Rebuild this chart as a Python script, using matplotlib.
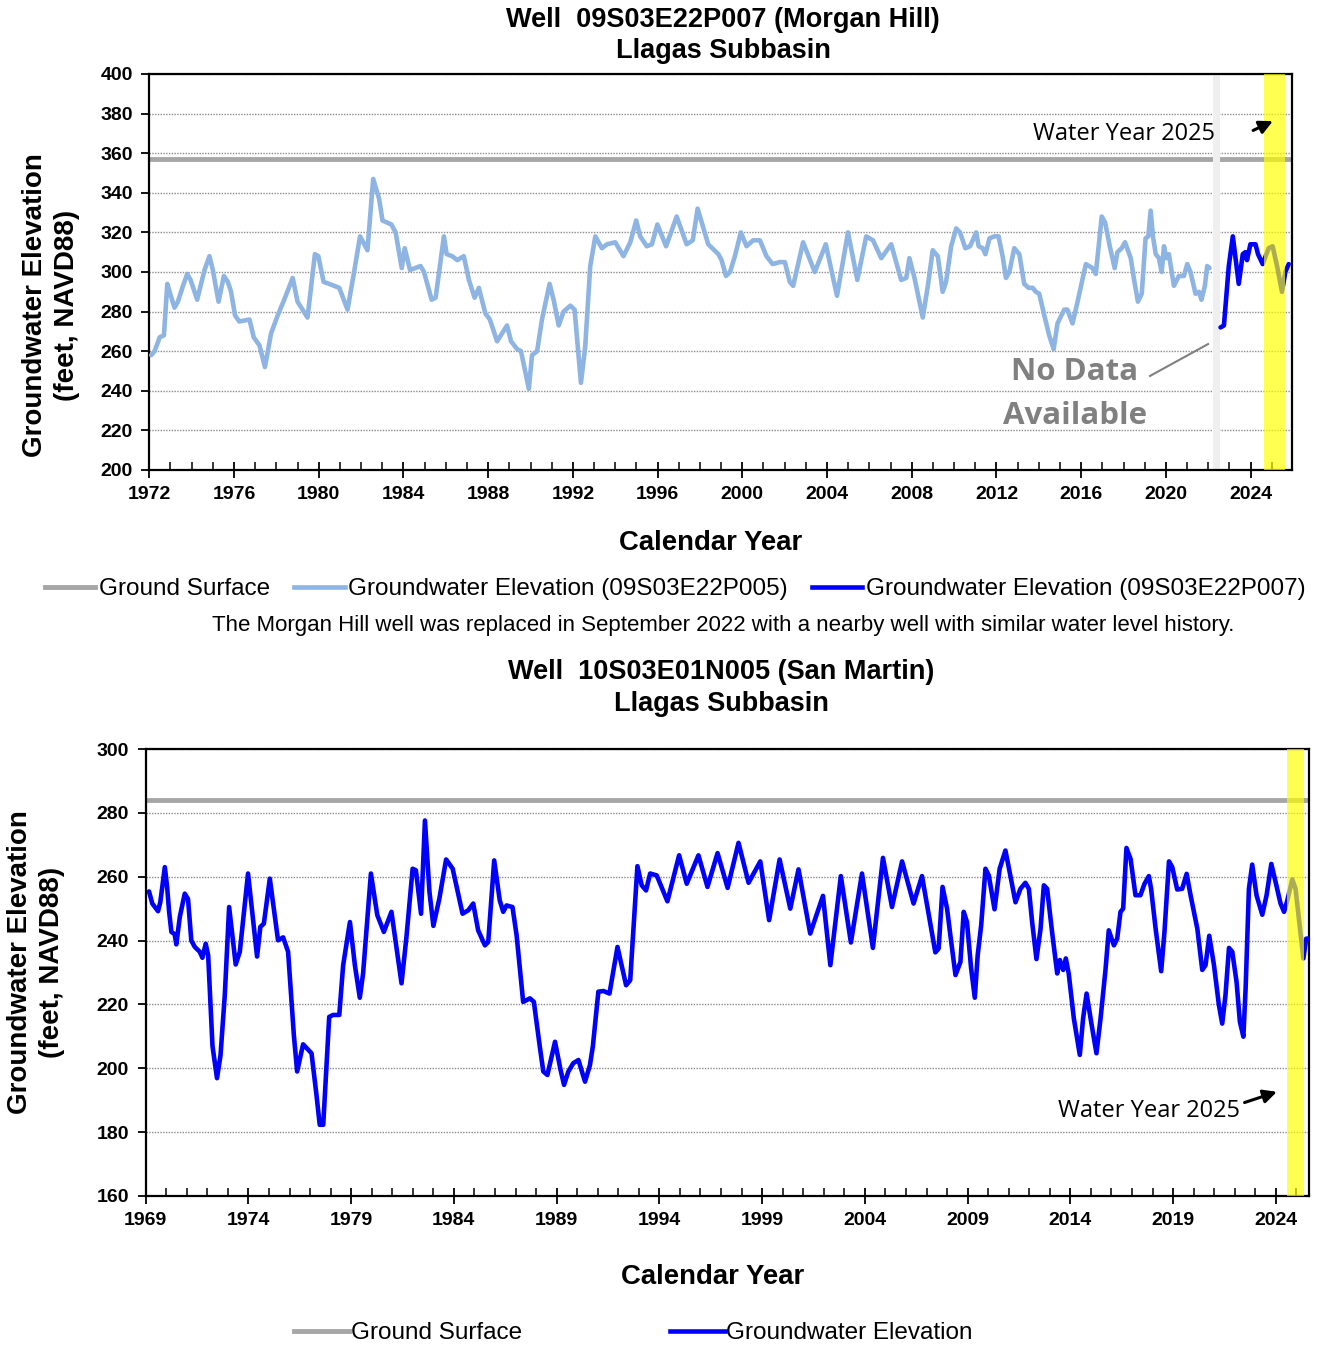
import matplotlib
matplotlib.use("Agg")
import matplotlib.pyplot as plt
from matplotlib.lines import Line2D
from matplotlib.ticker import MultipleLocator

plt.rcParams["font.family"] = ["Liberation Sans", "DejaVu Sans"]

# ---------------- Morgan Hill (top panel) ----------------
mh_ground_surface = 357

p005_year = [
    1972.09, 1972.25, 1972.49, 1972.69, 1972.85, 1972.96, 1973.19, 1973.35, 1973.59, 1973.79,
    1973.95, 1974.26, 1974.42, 1974.61, 1974.84, 1975.00, 1975.27, 1975.52, 1975.71, 1975.86,
    1976.05, 1976.25, 1976.73, 1976.93, 1977.20, 1977.46, 1977.75, 1978.06, 1978.37, 1978.77,
    1979.00, 1979.47, 1979.82, 1979.98, 1980.23, 1980.49, 1980.73, 1980.97, 1981.36, 1981.67,
    1981.95, 1982.30, 1982.57, 1982.85, 1983.01, 1983.43, 1983.63, 1983.92, 1984.06, 1984.31,
    1984.81, 1984.97, 1985.33, 1985.52, 1985.91, 1986.04, 1986.30, 1986.54, 1986.85, 1987.09,
    1987.36, 1987.56, 1987.87, 1988.08, 1988.42, 1988.89, 1989.08, 1989.37, 1989.55, 1989.92,
    1990.07, 1990.31, 1990.54, 1990.90, 1991.09, 1991.33, 1991.56, 1991.88, 1992.08, 1992.38,
    1992.58, 1992.82, 1993.06, 1993.37, 1993.61, 1994.00, 1994.39, 1994.71, 1994.99, 1995.18,
    1995.49, 1995.73, 1995.99, 1996.40, 1996.90, 1997.37, 1997.66, 1997.89, 1998.39, 1998.87,
    1999.02, 1999.23, 1999.42, 1999.65, 1999.93, 2000.20, 2000.51, 2000.83, 2001.14, 2001.43,
    2001.77, 2002.01, 2002.24, 2002.40, 2002.87, 2003.42, 2003.94, 2004.47, 2004.99, 2005.43,
    2005.85, 2006.17, 2006.56, 2007.03, 2007.50, 2007.74, 2007.89, 2008.13, 2008.52, 2008.76,
    2008.99, 2009.23, 2009.46, 2009.62, 2009.86, 2010.10, 2010.28, 2010.53, 2010.75, 2010.88,
    2011.04, 2011.16, 2011.35, 2011.48, 2011.67, 2011.90, 2012.10, 2012.29, 2012.45, 2012.61,
    2012.84, 2013.08, 2013.31, 2013.52, 2013.71, 2013.86, 2014.02, 2014.26, 2014.49, 2014.70,
    2014.88, 2015.20, 2015.35, 2015.59, 2015.83, 2016.22, 2016.53, 2016.69, 2016.97, 2017.13,
    2017.35, 2017.58, 2017.71, 2017.91, 2018.07, 2018.34, 2018.50, 2018.68, 2018.86, 2019.04,
    2019.17, 2019.28, 2019.39, 2019.52, 2019.67, 2019.80, 2019.91, 2020.02, 2020.14, 2020.38,
    2020.61, 2020.85, 2021.01, 2021.16, 2021.40, 2021.56, 2021.68, 2021.84, 2021.95, 2022.06,
]
p005_level = [
    258, 260, 267, 268, 294, 290, 282, 285, 293, 299,
    296, 286, 293, 301, 308, 301, 285, 298, 295, 290,
    278, 275, 276, 267, 263, 252, 269, 278, 286, 297,
    285, 277, 309, 308, 295, 294, 293, 292, 281, 300,
    318, 311, 347, 337, 326, 324, 320, 302, 312, 301,
    303, 300, 286, 287, 318, 309, 308, 306, 308, 296,
    287, 292, 279, 276, 265, 273, 265, 261, 260, 241,
    258, 260, 276, 294, 286, 273, 280, 283, 281, 244,
    262, 303, 318, 312, 314, 315, 308, 315, 326, 318,
    313, 314, 324, 313, 328, 314, 316, 332, 314, 309,
    306, 298, 300, 308, 320, 313, 316, 316, 308, 304,
    305, 305, 295, 293, 315, 300, 314, 288, 320, 296,
    318, 316, 307, 314, 296, 297, 307, 297, 277, 293,
    311, 308, 290, 295, 313, 322, 320, 312, 313, 316,
    320, 313, 312, 309, 317, 318, 318, 308, 297, 300,
    312, 309, 294, 292, 292, 290, 289, 278, 268, 261,
    274, 281, 281, 274, 285, 304, 302, 299, 328, 325,
    313, 302, 310, 312, 315, 307, 296, 285, 289, 317,
    318, 331, 318, 309, 307, 300, 313, 307, 309, 293,
    298, 298, 304, 300, 289, 290, 286, 293, 303, 302,
]

p007_year = [
    2022.58, 2022.74, 2022.97, 2023.16, 2023.44, 2023.63, 2023.75, 2023.83, 2023.99,
    2024.23, 2024.35, 2024.57, 2024.85, 2025.04, 2025.25, 2025.48, 2025.64, 2025.80,
]
p007_level = [
    272, 273, 303, 318, 294, 309, 310, 306, 314,
    314, 309, 304, 312, 313, 303, 290, 300, 304,
]

mh_xticks = list(range(1972, 2025, 4))
mh_yticks = list(range(200, 401, 20))

# ---------------- San Martin (bottom panel) ----------------
sm_ground_surface = 284

sm_year = [
    1969.16, 1969.32, 1969.60, 1969.71, 1969.93, 1970.04, 1970.14, 1970.25, 1970.41, 1970.49,
    1970.66, 1970.90, 1971.06, 1971.22, 1971.39, 1971.63, 1971.76, 1971.92, 1972.04, 1972.25,
    1972.47, 1972.64, 1972.85, 1973.06, 1973.38, 1973.58, 1973.98, 1974.42, 1974.58, 1974.75,
    1975.04, 1975.44, 1975.69, 1975.93, 1976.21, 1976.37, 1976.66, 1977.07, 1977.31, 1977.47,
    1977.64, 1977.93, 1978.12, 1978.42, 1978.61, 1978.94, 1979.18, 1979.42, 1979.58, 1979.96,
    1980.27, 1980.59, 1980.96, 1981.45, 1981.69, 1981.99, 1982.15, 1982.40, 1982.59, 1982.81,
    1983.00, 1983.29, 1983.62, 1983.94, 1984.42, 1984.70, 1984.94, 1985.18, 1985.51, 1985.67,
    1985.96, 1986.23, 1986.40, 1986.56, 1986.85, 1987.05, 1987.37, 1987.70, 1987.89, 1988.19,
    1988.35, 1988.55, 1988.92, 1989.19, 1989.36, 1989.57, 1989.81, 1990.06, 1990.38, 1990.62,
    1990.76, 1991.03, 1991.28, 1991.57, 1991.96, 1992.38, 1992.58, 1992.93, 1993.14, 1993.35,
    1993.55, 1993.87, 1994.39, 1994.96, 1995.33, 1995.90, 1996.34, 1996.83, 1997.32, 1997.85,
    1998.34, 1998.91, 1999.34, 1999.85, 2000.37, 2000.77, 2001.34, 2001.96, 2002.32, 2002.83,
    2003.32, 2003.86, 2004.39, 2004.88, 2005.32, 2005.81, 2006.37, 2006.78, 2007.43, 2007.59,
    2007.78, 2008.00, 2008.16, 2008.41, 2008.65, 2008.81, 2008.97, 2009.17, 2009.35, 2009.49,
    2009.66, 2009.87, 2010.03, 2010.31, 2010.56, 2010.84, 2011.00, 2011.33, 2011.57, 2011.81,
    2011.98, 2012.14, 2012.35, 2012.55, 2012.71, 2012.87, 2013.11, 2013.36, 2013.49, 2013.65,
    2013.78, 2013.92, 2014.17, 2014.46, 2014.62, 2014.79, 2015.01, 2015.27, 2015.47, 2015.71,
    2015.87, 2016.12, 2016.28, 2016.44, 2016.57, 2016.73, 2016.93, 2017.17, 2017.41, 2017.61,
    2017.82, 2017.93, 2018.15, 2018.42, 2018.58, 2018.80, 2018.96, 2019.20, 2019.44, 2019.66,
    2019.85, 2020.18, 2020.42, 2020.58, 2020.76, 2020.99, 2021.23, 2021.39, 2021.55, 2021.72,
    2021.88, 2022.09, 2022.25, 2022.42, 2022.53, 2022.69, 2022.85, 2023.06, 2023.34, 2023.55,
    2023.78, 2023.99, 2024.23, 2024.40, 2024.56, 2024.80, 2024.96, 2025.18, 2025.34, 2025.48,
    2025.56,
]
sm_level = [
    255.4, 251.6, 249.2, 252.0, 263.0, 257.0, 249.0, 242.7, 242.0, 238.8,
    247.4, 254.7, 253.0, 240.0, 238.0, 236.5, 234.6, 239.0, 235.4, 207.0,
    196.9, 204.0, 223.0, 250.5, 232.5, 236.5, 261.0, 235.0, 244.3, 245.3,
    259.4, 240.1, 241.0, 236.5, 210.4, 199.0, 207.5, 204.7, 191.7, 182.3,
    182.3, 216.1, 216.7, 216.7, 232.3, 245.8, 232.3, 222.1, 229.7, 261.0,
    248.0, 242.7, 249.0, 226.6, 241.1, 262.5, 262.0, 248.4, 277.6, 255.2,
    244.6, 253.1, 265.4, 262.5, 248.4, 249.5, 251.6, 243.2, 238.5, 239.6,
    265.1, 252.6, 249.0, 251.0, 250.5, 241.7, 220.8, 221.9, 220.8, 206.3,
    199.0, 197.9, 208.3, 199.5, 194.8, 199.0, 201.6, 202.6, 195.8, 201.0,
    206.8, 224.0, 224.2, 223.4, 238.0, 226.0, 227.6, 263.3, 257.3, 255.7,
    261.0, 260.4, 252.3, 266.7, 257.8, 266.7, 256.8, 267.4, 256.5, 270.6,
    258.1, 264.8, 246.4, 265.4, 250.0, 262.3, 242.2, 254.0, 232.3, 260.2,
    239.4, 261.0, 237.7, 265.9, 250.5, 264.8, 251.6, 260.2, 236.3, 237.5,
    256.8, 250.0, 241.7, 229.2, 233.3, 249.0, 245.8, 231.3, 222.1, 235.4,
    244.8, 262.5, 260.4, 249.8, 262.5, 268.2, 263.0, 252.0, 256.2, 258.1,
    256.2, 245.8, 234.2, 243.7, 257.3, 256.2, 242.7, 229.7, 233.9, 230.8,
    234.4, 229.7, 215.6, 204.2, 215.6, 223.4, 214.6, 204.7, 215.6, 230.8,
    243.2, 238.5, 240.6, 249.0, 250.0, 269.0, 265.6, 254.2, 254.2, 257.8,
    260.2, 256.2, 243.7, 230.4, 242.7, 264.8, 263.0, 256.0, 256.2, 260.9,
    254.2, 243.7, 230.8, 232.3, 241.5, 232.3, 219.8, 214.0, 222.9, 237.7,
    236.5, 227.0, 214.6, 209.9, 225.0, 256.2, 263.8, 254.2, 248.1, 254.2,
    264.0, 258.3, 251.6, 249.0, 252.6, 259.2, 256.2, 243.7, 234.4, 240.6,
    240.6,
]

sm_xticks = list(range(1969, 2025, 5))
sm_yticks = list(range(160, 301, 20))

# ---------------- styling ----------------
GROUND = "#A6A6A6"
LIGHT_BLUE = "#8DB4E2"
BLUE = "#0000FF"
YELLOW = "#FFFF00"
GRAY_TEXT = "#808080"
LINE_W = 3.3

W, H = 1331, 1345
fig = plt.figure(figsize=(W / 100, H / 100), dpi=100)


def box(left, top, right, bottom):
    return [left / W, 1 - bottom / H, (right - left) / W, (bottom - top) / H]


def style_axes(ax, xticks, yticks):
    ax.set_xticks(xticks)
    ax.set_yticks(yticks)
    ax.xaxis.set_minor_locator(MultipleLocator(1))
    ax.set_axisbelow(True)
    ax.yaxis.grid(True, linestyle=(0, (1, 1)), color="#8C8C8C", lw=1.0)
    for sp in ax.spines.values():
        sp.set_linewidth(1.6)
        sp.set_color("black")
    ax.tick_params(axis="x", which="major", direction="inout", length=11, width=1.3,
                   pad=6, labelsize=14)
    ax.tick_params(axis="x", which="minor", direction="in", length=6, width=1.1)
    ax.tick_params(axis="y", which="major", direction="out", length=6, width=1.3,
                   pad=6, labelsize=14)
    for lab in ax.get_xticklabels() + ax.get_yticklabels():
        lab.set_fontweight("bold")


ARROW = dict(arrowstyle="-|>", color="black", lw=2.2, mutation_scale=20)

# ---- top panel ----
ax1 = fig.add_axes(box(149.3, 74, 1291.7, 470))
ax1.set_xlim(1972, 2025.94)
ax1.set_ylim(200, 400)
style_axes(ax1, mh_xticks, mh_yticks)
ax1.axhline(mh_ground_surface, color=GROUND, lw=3.5, zorder=2)
ax1.axvspan(2022.21, 2022.55, color="#EFEFEF", lw=0, zorder=2.5)
ax1.plot(p005_year, p005_level, color=LIGHT_BLUE, lw=LINE_W, solid_joinstyle="round",
         solid_capstyle="round", zorder=3)
ax1.plot(p007_year, p007_level, color=BLUE, lw=LINE_W, solid_joinstyle="round",
         solid_capstyle="round", zorder=3)
ax1.axvspan(2024.65, 2025.62, color=YELLOW, alpha=0.68, lw=0, zorder=4)

ax1.text(2022.32, 369.7, "Water Year 2025", ha="right", va="center",
         fontsize=17, family="Open Sans", zorder=6)
ax1.annotate("", xy=(2025.17, 376.8), xytext=(2024.0, 370.9), arrowprops=ARROW, zorder=6)
ax1.text(2015.7, 249.5, "No Data", ha="center", va="center", fontsize=22.5,
         fontweight="bold", family="Open Sans", color=GRAY_TEXT, zorder=6)
ax1.text(2015.7, 227.3, "Available", ha="center", va="center", fontsize=22.5,
         fontweight="bold", family="Open Sans", color=GRAY_TEXT, zorder=6)
ax1.plot([2019.25, 2021.99], [247.5, 263.6], color=GRAY_TEXT, lw=1.5, zorder=6)

cx1 = 723 / W
fig.text(cx1, 1 - 20 / H, "Well  09S03E22P007 (Morgan Hill)", ha="center",
         va="center", fontsize=19.5, fontweight="bold")
fig.text(cx1, 1 - 51 / H, "Llagas Subbasin", ha="center", va="center",
         fontsize=19.5, fontweight="bold")
fig.text(35 / W, 1 - 305 / H, "Groundwater Elevation", rotation=90, ha="center",
         va="center", fontsize=20, fontweight="bold")
fig.text(67 / W, 1 - 305 / H, "(feet, NAVD88)", rotation=90, ha="center",
         va="center", fontsize=20, fontweight="bold")
fig.text(711 / W, 1 - 543 / H, "Calendar Year", ha="center", va="center",
         fontsize=19.8, fontweight="bold")

top_handles = [
    Line2D([], [], color=GROUND, lw=3.5),
    Line2D([], [], color=LIGHT_BLUE, lw=LINE_W),
    Line2D([], [], color=BLUE, lw=LINE_W),
]
top_labels = [
    "Ground Surface",
    "Groundwater Elevation (09S03E22P005)",
    "Groundwater Elevation (09S03E22P007)",
]
fig.legend(top_handles, top_labels, loc="center", bbox_to_anchor=(675.5 / W, 1 - 589 / H),
           ncol=3, frameon=False, fontsize=17.5, handlelength=2.06, handletextpad=0.16,
           columnspacing=1.0, borderaxespad=0)
fig.text(723 / W, 1 - 625 / H,
         "The Morgan Hill well was replaced in September 2022 with a nearby well with similar water level history.",
         ha="center", va="center", fontsize=16)

# ---- bottom panel ----
ax2 = fig.add_axes(box(145.7, 749, 1308.5, 1196))
ax2.set_xlim(1969, 2025.59)
ax2.set_ylim(160, 300)
style_axes(ax2, sm_xticks, sm_yticks)
ax2.axhline(sm_ground_surface, color=GROUND, lw=3.5, zorder=2)
ax2.plot(sm_year, sm_level, color=BLUE, lw=LINE_W, solid_joinstyle="round",
         solid_capstyle="round", zorder=3)
ax2.axvspan(2024.54, 2025.38, color=YELLOW, alpha=0.68, lw=0, zorder=4)

ax2.text(2022.26, 186.6, "Water Year 2025", ha="right", va="center",
         fontsize=17, family="Open Sans", zorder=6)
ax2.annotate("", xy=(2024.18, 192.9), xytext=(2022.35, 189.0), arrowprops=ARROW, zorder=6)

cx2 = 721 / W
fig.text(cx2, 1 - 672 / H, "Well  10S03E01N005 (San Martin)", ha="center",
         va="center", fontsize=19.5, fontweight="bold")
fig.text(cx2, 1 - 704 / H, "Llagas Subbasin", ha="center", va="center",
         fontsize=19.5, fontweight="bold")
fig.text(20 / W, 1 - 962 / H, "Groundwater Elevation", rotation=90, ha="center",
         va="center", fontsize=20, fontweight="bold")
fig.text(52 / W, 1 - 962 / H, "(feet, NAVD88)", rotation=90, ha="center",
         va="center", fontsize=20, fontweight="bold")
fig.text(713 / W, 1 - 1277 / H, "Calendar Year", ha="center", va="center",
         fontsize=19.8, fontweight="bold")

bottom_handles = [
    Line2D([], [], color=GROUND, lw=3.5),
    Line2D([], [], color=BLUE, lw=LINE_W),
]
fig.legend(bottom_handles, ["Ground Surface", "Groundwater Elevation"], loc="center",
           bbox_to_anchor=(633.5 / W, 1 - 1333 / H), ncol=2, frameon=False, fontsize=17.5,
           handlelength=2.26, handletextpad=0.05, columnspacing=6.1, borderaxespad=0)

fig.savefig("out.png", dpi=100)
